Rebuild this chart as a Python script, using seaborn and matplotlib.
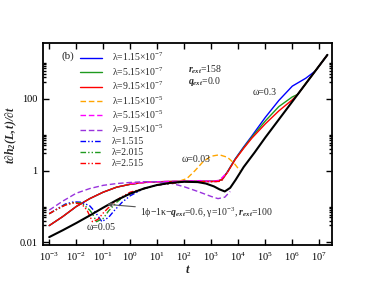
import numpy as np
import matplotlib
matplotlib.use("Agg")
import matplotlib.pyplot as plt
import matplotlib.ticker as mticker
import seaborn as sns

# values as log10(t), log10(t dh/dt)
lt_black = [-3.0, -2.5, -2.0, -1.5, -1.0, -0.5, 0.0, 0.5, 1.0, 1.5, 2.0, 2.5, 2.8, 3.1, 3.3, 3.5, 3.7, 3.9, 4.2, 4.6, 5.0, 6.0, 7.3]
ly_black = [-1.85, -1.66, -1.46, -1.25, -1.03, -0.82, -0.64, -0.5, -0.4, -0.34, -0.31, -0.32, -0.36, -0.44, -0.52, -0.58, -0.48, -0.26, 0.1, 0.5, 0.92, 1.92, 3.22]

lt_early = [-3.0, -2.5, -2.0, -1.5, -1.0, -0.5, 0.0, 0.5, 1.0, 2.0]
ly_early = [-1.53, -1.28, -1.0, -0.78, -0.6, -0.46, -0.38, -0.33, -0.31, -0.3]

lt_red_late = [3.0, 3.2, 3.4, 3.6, 3.88, 4.2, 4.5, 5.0, 5.5, 6.0, 6.2, 7.3]
ly_red_late = [-0.31, -0.3, -0.25, -0.05, 0.3, 0.62, 0.9, 1.3, 1.66, 1.97, 2.12, 3.22]
lt_green_late = [3.0, 3.2, 3.4, 3.6, 3.88, 4.2, 4.5, 5.0, 5.5, 6.0, 6.2, 7.3]
ly_green_late = [-0.31, -0.3, -0.25, -0.04, 0.31, 0.64, 0.93, 1.38, 1.78, 2.05, 2.12, 3.22]
lt_blue_late = [3.0, 3.2, 3.4, 3.6, 3.88, 4.2, 4.5, 5.0, 5.5, 6.0, 6.5, 6.85, 7.3]
ly_blue_late = [-0.31, -0.3, -0.25, -0.03, 0.32, 0.66, 0.96, 1.48, 1.95, 2.35, 2.57, 2.77, 3.22]

lt_orange = [0.0, 1.0, 1.8, 2.1, 2.4, 2.7, 3.0, 3.3, 3.6, 3.85, 4.06]
ly_orange = [-0.36, -0.31, -0.3, -0.22, 0.0, 0.25, 0.4, 0.44, 0.37, 0.2, 0.0]
lt_magenta = [0.0, 1.0, 2.0, 2.6, 3.0, 3.3, 3.5, 3.6]
ly_magenta = [-0.36, -0.31, -0.29, -0.28, -0.3, -0.27, -0.12, -0.05]
lt_purple = [-3.0, -2.5, -2.0, -1.5, -1.0, -0.5, 0.0, 0.5, 1.0, 1.5, 2.0, 2.5, 3.0, 3.25, 3.5, 3.7]
ly_purple = [-1.1, -0.85, -0.63, -0.5, -0.41, -0.36, -0.33, -0.31, -0.31, -0.35, -0.45, -0.58, -0.72, -0.78, -0.74, -0.58]

lt_dd_red = [-3.0, -2.7, -2.4, -2.1, -1.8, -1.6, -1.4, -1.2, -1.0, -0.7, -0.4, 0.0, 0.5, 1.0, 2.0, 3.0, 3.3, 3.5]
ly_dd_red = [-1.2, -1.07, -0.96, -0.9, -0.93, -1.1, -1.42, -1.36, -1.18, -0.95, -0.77, -0.6, -0.5, -0.4, -0.31, -0.31, -0.3, -0.22]
lt_dd_green = [-3.0, -2.7, -2.4, -2.1, -1.8, -1.5, -1.4, -1.25, -1.0, -0.8, -0.5, -0.2, 0.3, 1.0, 2.0]
ly_dd_green = [-1.2, -1.07, -0.95, -0.89, -0.9, -1.1, -1.2, -1.42, -1.33, -1.12, -0.88, -0.7, -0.55, -0.4, -0.31]
lt_dd_blue = [-3.0, -2.7, -2.4, -2.1, -1.8, -1.5, -1.3, -1.05, -0.8, -0.6, -0.3, 0.0, 0.5, 1.0, 2.0]
ly_dd_blue = [-1.2, -1.06, -0.93, -0.87, -0.88, -0.98, -1.15, -1.42, -1.3, -1.12, -0.88, -0.7, -0.5, -0.4, -0.31]

labels = ['λ=1.15×10$^{-7}$', 'λ=5.15×10$^{-7}$', 'λ=9.15×10$^{-7}$',
          'λ=1.15×10$^{-5}$', 'λ=5.15×10$^{-5}$', 'λ=9.15×10$^{-5}$',
          'λ=1.515', 'λ=2.015', 'λ=2.515']
colors = ['#0000ff', '#1f9a1f', '#ff0000', '#ffa500', '#ff00ff', '#9933dd', '#0000ff', '#1f9a1f', '#ff0000']

sns.set_style("ticks")
plt.rcParams['font.family'] = ['Liberation Serif', 'DejaVu Serif']
plt.rcParams['mathtext.fontset'] = 'custom'
plt.rcParams['mathtext.rm'] = 'Liberation Serif'
plt.rcParams['mathtext.it'] = 'Liberation Serif:italic'
plt.rcParams['mathtext.bf'] = 'Liberation Serif:italic:bold'

fig = plt.figure(figsize=(3.74, 2.89), dpi=100)
ax = fig.add_axes([43 / 374, 1 - 245 / 289, 289 / 374, 202 / 289])

solid = '-'
dash = (0, (4, 2))
dashdot = (0, (4, 1.5, 1, 1.5, 1, 1.5))

series = [
    (lt_early + lt_blue_late[1:], ly_early + ly_blue_late[1:], solid),
    (lt_early + lt_green_late[1:], ly_early + ly_green_late[1:], solid),
    (lt_early + lt_red_late[1:], ly_early + ly_red_late[1:], solid),
    (lt_orange, ly_orange, dash),
    (lt_magenta, ly_magenta, dash),
    (lt_purple, ly_purple, dash),
    (lt_dd_blue, ly_dd_blue, dashdot),
    (lt_dd_green, ly_dd_green, dashdot),
    (lt_dd_red, ly_dd_red, dashdot),
]

handles = []
for (lt, ly, ls), c, lab in zip(series, colors, labels):
    sns.lineplot(x=10.0 ** np.array(lt), y=10.0 ** np.array(ly), ax=ax, color=c,
                 linestyle=ls, lw=1.0, sort=False, estimator=None, errorbar=None)
    handles.append(ax.lines[-1])

sns.lineplot(x=10.0 ** np.array(lt_black), y=10.0 ** np.array(ly_black), ax=ax,
             color='black', lw=1.5, sort=False, estimator=None, errorbar=None)

ax.set_xscale('log')
ax.set_yscale('log')
ax.set_xlim(10 ** -3.23, 10 ** 7.47)
ax.set_ylim(10 ** -2.07, 10 ** 3.55)

ax.xaxis.set_major_locator(mticker.FixedLocator([10.0 ** k for k in range(-3, 8)]))
ax.xaxis.set_minor_locator(mticker.NullLocator())
ax.yaxis.set_major_locator(mticker.FixedLocator([0.01, 1, 100]))
ax.yaxis.set_major_formatter(mticker.FixedFormatter(['0.01', '1', '100']))
ax.yaxis.set_minor_locator(mticker.FixedLocator([m * 10.0 ** e for e in (-2, 0, 2) for m in range(3, 11)]))
ax.yaxis.set_minor_formatter(mticker.NullFormatter())
ax.tick_params(which='both', direction='in', top=True, right=True, labelsize=7.5, width=1.0, colors='black')
ax.tick_params(which='major', length=4, pad=4)
ax.tick_params(which='minor', length=2)
for s in ax.spines.values():
    s.set_linewidth(1.3)
    s.set_color('black')

ax.set_xlabel(r'$\mathbf{t}$', fontsize=9, labelpad=1)
ax.set_ylabel(r'$\mathbf{t\partial h_2(L,t)/\partial t}$', fontsize=8.5)
ax.yaxis.set_label_coords(-0.083, 0.545)

ax.legend(handles, labels, loc='upper left', bbox_to_anchor=(0.128, 0.96), frameon=False,
          fontsize=7, handlelength=2.3, handletextpad=1.0, labelspacing=0.2,
          borderpad=0, borderaxespad=0)

ax.text(10 ** -2.53, 10 ** 3.19, '(b)', fontsize=8, va='center', ha='left')
ax.text(10 ** 2.14, 10 ** 2.81, r'$\mathbf{r}_{\mathbf{ext}}$=158', fontsize=7, va='center')
ax.text(10 ** 2.14, 10 ** 2.47, r'$\mathbf{q}_{\mathbf{ext}}$=0.0', fontsize=7, va='center')
ax.text(10 ** 4.99, 10 ** 2.17, 'ω=0.3', fontsize=7, ha='center', va='center')
ax.text(10 ** 2.43, 10 ** 0.31, 'ω=0.03', fontsize=7, ha='center', va='center')
ax.text(10 ** -1.09, 10 ** -1.58, 'ω=0.05', fontsize=7, ha='center', va='center')
ax.annotate('1ϕ−1κ−$\\mathbf{q}_{\\mathbf{ext}}$=0.6, γ=10$^{-3}$, $\\mathbf{r}_{\\mathbf{ext}}$=100',
            xy=(10 ** -0.86, 10 ** -0.94), xytext=(10 ** 0.36, 10 ** -1.17),
            fontsize=7, va='center', ha='left',
            arrowprops=dict(arrowstyle='-|>', color='#555555', lw=0.8, mutation_scale=6,
                            shrinkA=1, shrinkB=0))

fig.savefig('out.png', dpi=100)
